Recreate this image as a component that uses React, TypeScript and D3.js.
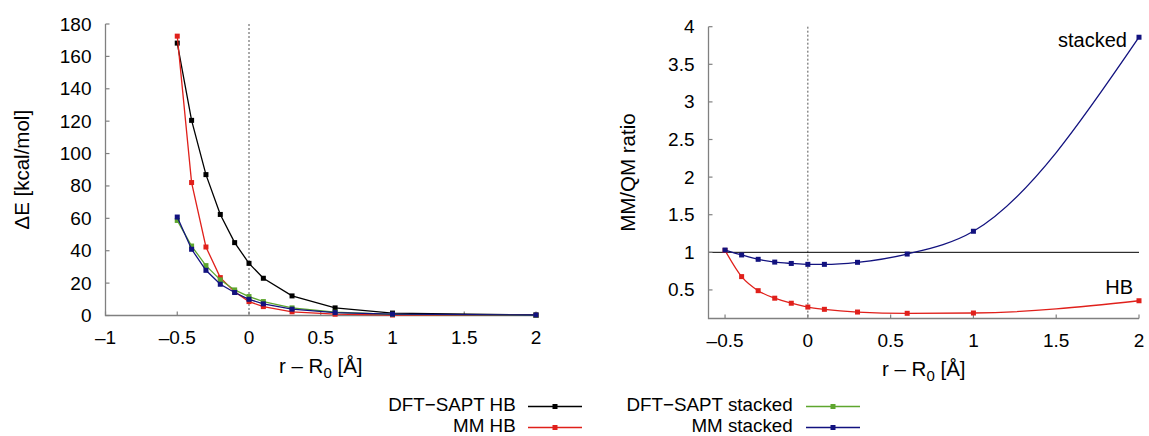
import React from "react";
import * as d3 from "d3";

// ---- data ----
const rValues = [-0.5, -0.4, -0.3, -0.2, -0.1, 0, 0.1, 0.3, 0.6, 1.0, 2.0];
const dftSaptHB = [168.2, 120.5, 87.0, 62.4, 45.0, 32.2, 23.0, 12.1, 4.7, 1.5, 0.3];
const mmHB = [172.5, 82.1, 42.3, 23.4, 14.6, 8.6, 5.5, 2.3, 0.8, 0.3, 0.1];
const dftSaptStacked = [58.7, 42.9, 30.8, 22.0, 15.8, 11.7, 8.6, 4.7, 2.0, 0.7, 0.1];
const mmStacked = [60.8, 40.9, 27.9, 19.3, 14.2, 10.0, 7.2, 3.9, 1.8, 0.8, 0.3];

const ratioStacked = [1.03, 0.965, 0.907, 0.87, 0.852, 0.84, 0.84, 0.867, 0.977, 1.28, 3.86];
const ratioHB = [1.025, 0.677, 0.49, 0.39, 0.323, 0.272, 0.242, 0.206, 0.189, 0.193, 0.356];

const leftXTicks = [-1, -0.5, 0, 0.5, 1, 1.5, 2];
const leftYTicks = [0, 20, 40, 60, 80, 100, 120, 140, 160, 180];
const rightXTicks = [-0.5, 0, 0.5, 1, 1.5, 2];
const rightYTicks = [0.5, 1, 1.5, 2, 2.5, 3, 3.5, 4];

const seriesNames = ["DFT\u2212SAPT HB", "MM HB", "DFT\u2212SAPT stacked", "MM stacked"];
const COLORS = { black: "#000000", red: "#e0201b", green: "#5ea62e", blue: "#12127f" };

const FONT = "'Liberation Sans', Arial, Helvetica, sans-serif";
const FS = 19;
const FS_TITLE = 20.5;
const FS_LEGEND = 18.8;
const AXIS = "#808080";

const fmt = (v: number) => (v < 0 ? "\u2013" + String(Math.abs(v)) : String(v));

function Markers({ xs, ys, x, y, color }: any) {
  return (
    <g fill={color}>
      {xs.map((v: number, i: number) => (
        <rect key={i} x={x(v) - 2.5} y={y(ys[i]) - 2.5} width={5} height={5} />
      ))}
    </g>
  );
}

export default function App() {
  // left panel scales
  const xL = d3.scaleLinear().domain([-1, 2]).range([105.5, 536]);
  const yL = d3.scaleLinear().domain([0, 180]).range([315.5, 24]);
  // right panel scales
  const xR = d3.scaleLinear().domain([-0.6, 2]).range([708.5, 1139]);
  const yR = d3.scaleLinear().domain([0.12, 4]).range([318.5, 26.7]);

  const lineL = (ys: number[]) =>
    d3.line<number>().x((d) => xL(d)).y((_, i) => yL(ys[i]))(rValues) || "";
  const lineR = (ys: number[]) =>
    d3.line<number>().curve(d3.curveMonotoneX).x((d) => xR(d)).y((_, i) => yR(ys[i]))(rValues) || "";

  const leftSeries = [
    { ys: dftSaptHB, c: COLORS.black },
    { ys: mmHB, c: COLORS.red },
    { ys: dftSaptStacked, c: COLORS.green },
    { ys: mmStacked, c: COLORS.blue },
  ];

  const legendItems = [
    { name: seriesNames[0], c: COLORS.black, tx: 515.7, ty: 410.5, lx: 528, ly: 406.5 },
    { name: seriesNames[1], c: COLORS.red, tx: 515.7, ty: 431.5, lx: 528, ly: 427.5 },
    { name: seriesNames[2], c: COLORS.green, tx: 792.7, ty: 410.5, lx: 806, ly: 406.5 },
    { name: seriesNames[3], c: COLORS.blue, tx: 792.7, ty: 431.5, lx: 806, ly: 427.5 },
  ];

  return (
    <svg
      width={1149}
      height={436}
      style={{ position: "absolute", left: 0, top: 0, background: "#fff" }}
      fontFamily={FONT}
      fontSize={FS}
    >
      {/* ---------- LEFT PANEL ---------- */}
      <line x1={xL(0)} x2={xL(0)} y1={yL(180)} y2={yL(0)} stroke="#555" strokeWidth={1} strokeDasharray="2,2" />
      <path d={`M${xL(-1)},${yL(180)}V${yL(0)}H${xL(2)}`} fill="none" stroke={AXIS} strokeWidth={1.3} />
      {leftYTicks.map((t) => (
        <g key={"ly" + t}>
          <line x1={xL(-1)} x2={xL(-1) + 4} y1={yL(t)} y2={yL(t)} stroke={AXIS} strokeWidth={1.2} />
          <text x={xL(-1) - 14} y={yL(t)} textAnchor="end" dominantBaseline="central">{fmt(t)}</text>
        </g>
      ))}
      {leftXTicks.map((t) => (
        <g key={"lx" + t}>
          <line x1={xL(t)} x2={xL(t)} y1={yL(0)} y2={yL(0) - 4} stroke={AXIS} strokeWidth={1.2} />
          <text x={xL(t)} y={343.5} textAnchor="middle">{fmt(t)}</text>
        </g>
      ))}
      <text transform={`translate(29,${(yL(0) + yL(180)) / 2}) rotate(-90)`} textAnchor="middle" fontSize={FS_TITLE}>
        ΔE [kcal/mol]
      </text>
      <text x={(xL(-1) + xL(2)) / 2} y={373} textAnchor="middle" fontSize={FS_TITLE}>
        r – R<tspan dy={5} fontSize={15}>0</tspan><tspan dy={-5}> [Å]</tspan>
      </text>
      {leftSeries.map((s, i) => (
        <g key={"ls" + i}>
          <path d={lineL(s.ys)} fill="none" stroke={s.c} strokeWidth={1.3} />
          <Markers xs={rValues} ys={s.ys} x={xL} y={yL} color={s.c} />
        </g>
      ))}

      {/* ---------- RIGHT PANEL ---------- */}
      <line x1={xR(0)} x2={xR(0)} y1={yR(4)} y2={yR(0.12)} stroke="#555" strokeWidth={1} strokeDasharray="2,2" />
      <line x1={xR(-0.6)} x2={xR(2)} y1={yR(1)} y2={yR(1)} stroke="#000" strokeWidth={1} />
      <path d={`M${xR(-0.6)},${yR(4)}V${yR(0.12)}H${xR(2)}`} fill="none" stroke={AXIS} strokeWidth={1.3} />
      {rightYTicks.map((t) => (
        <g key={"ry" + t}>
          <line x1={xR(-0.6)} x2={xR(-0.6) + 4} y1={yR(t)} y2={yR(t)} stroke={AXIS} strokeWidth={1.2} />
          <text x={xR(-0.6) - 14} y={yR(t)} textAnchor="end" dominantBaseline="central">{fmt(t)}</text>
        </g>
      ))}
      {rightXTicks.map((t) => (
        <g key={"rx" + t}>
          <line x1={xR(t)} x2={xR(t)} y1={yR(0.12)} y2={yR(0.12) - 4} stroke={AXIS} strokeWidth={1.2} />
          <text x={xR(t)} y={346.5} textAnchor="middle">{fmt(t)}</text>
        </g>
      ))}
      <text transform={`translate(635,${(yR(0.12) + yR(4)) / 2}) rotate(-90)`} textAnchor="middle" fontSize={FS_TITLE}>
        MM/QM ratio
      </text>
      <text x={(xR(-0.6) + xR(2)) / 2} y={376} textAnchor="middle" fontSize={FS_TITLE}>
        r – R<tspan dy={5} fontSize={15}>0</tspan><tspan dy={-5}> [Å]</tspan>
      </text>
      <path d={lineR(ratioHB)} fill="none" stroke={COLORS.red} strokeWidth={1.3} />
      <Markers xs={rValues} ys={ratioHB} x={xR} y={yR} color={COLORS.red} />
      <path d={lineR(ratioStacked)} fill="none" stroke={COLORS.blue} strokeWidth={1.3} />
      <Markers xs={rValues} ys={ratioStacked} x={xR} y={yR} color={COLORS.blue} />
      <text x={1127} y={47} textAnchor="end" fontSize={20}>stacked</text>
      <text x={1133} y={294} textAnchor="end" fontSize={20}>HB</text>

      {/* ---------- LEGEND ---------- */}
      {legendItems.map((it, i) => (
        <g key={"lg" + i}>
          <text x={it.tx} y={it.ty} textAnchor="end" fontSize={FS_LEGEND}>{it.name}</text>
          <line x1={it.lx} x2={it.lx + 54} y1={it.ly} y2={it.ly} stroke={it.c} strokeWidth={1.3} />
          <rect x={it.lx + 27 - 2.5} y={it.ly - 2.5} width={5} height={5} fill={it.c} />
        </g>
      ))}
    </svg>
  );
}
